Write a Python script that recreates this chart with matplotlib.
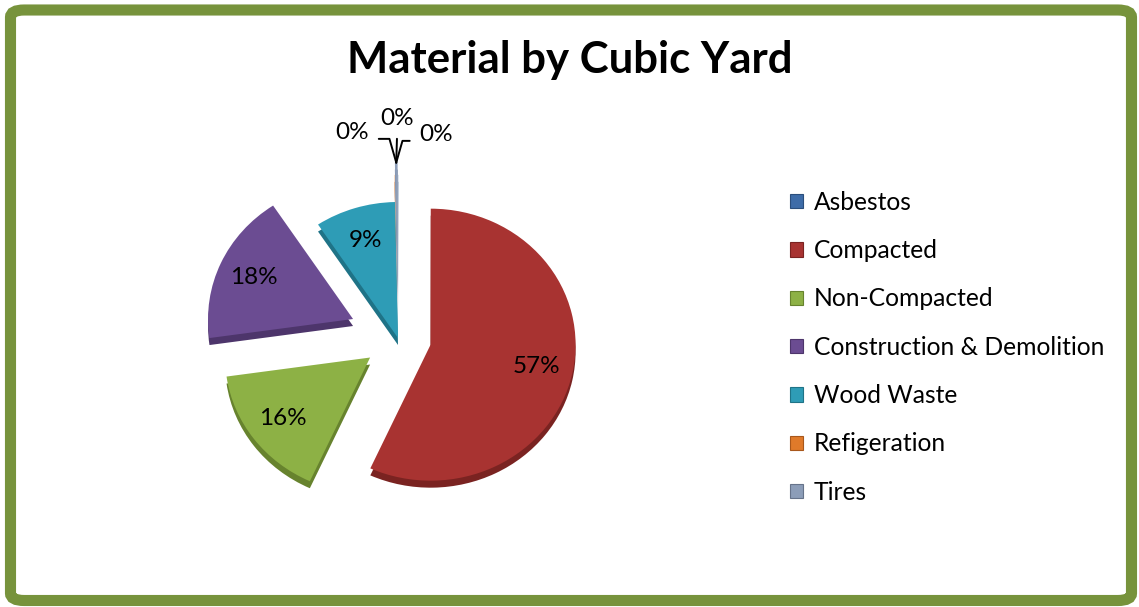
import matplotlib
matplotlib.use("Agg")
import matplotlib.pyplot as plt
from matplotlib.patches import Patch, FancyBboxPatch
import numpy as np

categories = ["Asbestos", "Compacted", "Non-Compacted", "Construction & Demolition",
              "Wood Waste", "Refigeration", "Tires"]
values = [0.02, 57.0, 16.0, 18.0, 9.0, 0.03, 0.3]
colors = ["#3E6CA8", "#A83331", "#8DB145", "#6B4C92", "#2E9CB6", "#E07A2A", "#8C9DB8"]
side_colors = ["#2B4E7C", "#7A2321", "#67832E", "#4D356B", "#1F7387", "#A8571B", "#66738A"]
explode = [0.2, 0.23, 0.24, 0.34, 0.0, 0.2, 0.29]
title = "Material by Cubic Yard"

plt.rcParams['font.family'] = ['Lato', 'DejaVu Sans']

W, H = 1139, 607
fig = plt.figure(figsize=(W / 100, H / 100), dpi=100, facecolor="white")

# green rounded border
border = FancyBboxPatch((10.5 / W, 6.5 / H), 1121 / W, 590.5 / H,
                        boxstyle="round,pad=0,rounding_size=0.012",
                        transform=fig.transFigure, facecolor="none",
                        edgecolor="#77933C", linewidth=8, zorder=5)
fig.patches.append(border)

fig.text(570 / W, 1 - 60 / H, title, ha="center", va="center",
         fontsize=31.5, fontweight="bold", color="black")

# pie axes: center at pixel (398, 338)
cx, cy, half = 398, 338, 260
ax = fig.add_axes([(cx - half) / W, (H - cy - half) / H, 2 * half / W, 2 * half / H])
rx, ry = 145, 136
depth = 7 / ry

total = sum(values)


def pct(p):
    return "%.0f%%" % p if p >= 1 else ""


ax.pie(values, explode=explode, colors=side_colors, startangle=90, counterclock=False,
       center=(0, -depth), wedgeprops=dict(linewidth=0))
wedges, texts, autotexts = ax.pie(values, explode=explode, colors=colors, startangle=90,
                                  counterclock=False, autopct=pct, pctdistance=0.75,
                                  wedgeprops=dict(linewidth=0),
                                  textprops=dict(fontsize=17.5, color="black"))
ax.set_aspect("auto")
ax.set_xlim(-half / rx, half / rx)
ax.set_ylim(-half / ry, half / ry)
ax.axis("off")

# small-slice labels with leader lines
small = [i for i, v in enumerate(values) if v / total * 100 < 1]
offsets = {0: (40, 28, "angle,angleA=0,angleB=74,rad=0", (0.0, 0.2)),
           5: (1, 44, "arc3", (0.5, 0.0)),
           6: (-44, 30, "angle,angleA=0,angleB=106,rad=0", (1.0, 0.2))}
tip_idx = small[-1]
w = wedges[tip_idx]
ang = np.deg2rad((w.theta1 + w.theta2) / 2)
tip = (w.center[0] + w.r * np.cos(ang), w.center[1] + w.r * np.sin(ang))
for i in small:
    dx, dy, cs, rel = offsets[i]
    ax.annotate("%.0f%%" % (values[i] / total * 100), xy=tip,
                xytext=(dx * 0.72, dy * 0.72), textcoords="offset points",
                ha="center", va="center", fontsize=17.5,
                arrowprops=dict(arrowstyle="-", color="black", lw=1.4,
                                connectionstyle=cs, relpos=rel,
                                shrinkA=5, shrinkB=0))

handles = [Patch(facecolor=c, edgecolor=s, linewidth=0.8) for c, s in zip(colors, side_colors)]
fig.legend(handles, categories, loc="upper left",
           bbox_to_anchor=(780 / W, 1 - 181 / H), frameon=False,
           fontsize=17.7, handlelength=0.52, handleheight=0.52,
           handletextpad=0.45, labelspacing=1.03, borderaxespad=0)

fig.savefig("out.png", dpi=100)
